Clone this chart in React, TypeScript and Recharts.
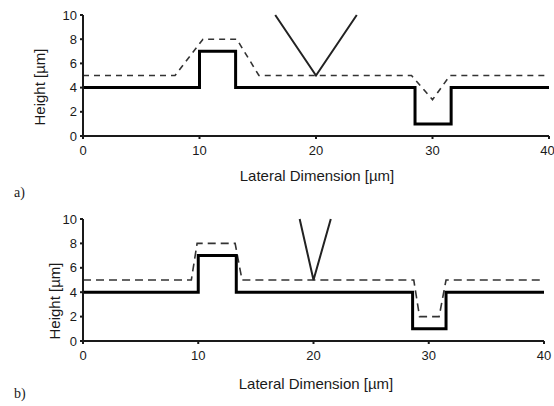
import { LineChart, Line, XAxis, YAxis, Label } from 'recharts';

// profile points, x in µm, y in µm
const topSolid = [
  { x: 0, y: 4 }, { x: 10, y: 4 }, { x: 10, y: 7 }, { x: 13.1, y: 7 }, { x: 13.1, y: 4 },
  { x: 28.5, y: 4 }, { x: 28.5, y: 1 }, { x: 31.6, y: 1 }, { x: 31.6, y: 4 }, { x: 40, y: 4 },
];
const topDashed = [
  { x: 0, y: 5 }, { x: 7.9, y: 5 }, { x: 10.3, y: 8 }, { x: 13.2, y: 8 }, { x: 15.1, y: 5 },
  { x: 28.2, y: 5 }, { x: 30, y: 3 }, { x: 31.5, y: 5 }, { x: 40, y: 5 },
];
const topTip = [{ x: 16.5, y: 10 }, { x: 20, y: 5 }, { x: 23.5, y: 10 }];

const bottomSolid = [
  { x: 0, y: 4 }, { x: 10, y: 4 }, { x: 10, y: 7 }, { x: 13.3, y: 7 }, { x: 13.3, y: 4 },
  { x: 28.6, y: 4 }, { x: 28.6, y: 1 }, { x: 31.5, y: 1 }, { x: 31.5, y: 4 }, { x: 40, y: 4 },
];
const bottomDashed = [
  { x: 0, y: 5 }, { x: 9.4, y: 5 }, { x: 9.9, y: 8 }, { x: 13.2, y: 8 }, { x: 13.8, y: 5 },
  { x: 28.7, y: 5 }, { x: 29.2, y: 2 }, { x: 30.9, y: 2 }, { x: 31.5, y: 5 }, { x: 40, y: 5 },
];
const bottomTip = [{ x: 18.8, y: 10 }, { x: 20, y: 5 }, { x: 21.5, y: 10 }];

const xTicks = [0, 10, 20, 30, 40];
const yTicks = [0, 2, 4, 6, 8, 10];

const xTitle = 'Lateral Dimension [µm]';
const yTitle = 'Height [µm]';
const panelLabels = ['a)', 'b)'];

const font = '"Liberation Sans", Arial, sans-serif';
const ink = '#1a1a1a';

const rotatedTitle = (cx: number, cy: number) => () => (
  <text
    x={cx}
    y={cy}
    transform={`rotate(-90, ${cx}, ${cy})`}
    textAnchor="middle"
    dominantBaseline="central"
    fontSize={15}
    fontFamily={font}
    fill={ink}
  >
    {yTitle}
  </text>
);

const flatTitle = (cx: number, cy: number) => () => (
  <text
    x={cx}
    y={cy}
    textAnchor="middle"
    dominantBaseline="central"
    fontSize={15}
    fontFamily={font}
    fill={ink}
  >
    {xTitle}
  </text>
);

type PanelProps = {
  height: number;
  margin: { top: number; right: number; bottom: number; left: number };
  solid: { x: number; y: number }[];
  dashed: { x: number; y: number }[];
  tip: { x: number; y: number }[];
  dash: string;
  yTitlePos: [number, number];
  xTitlePos: [number, number];
};

const Panel = ({ height, margin, solid, dashed, tip, dash, yTitlePos, xTitlePos }: PanelProps) => (
  <LineChart width={554} height={height} margin={margin}>
    <XAxis
      type="number"
      dataKey="x"
      domain={[0, 40]}
      ticks={xTicks}
      height={48}
      axisLine={{ stroke: ink, strokeWidth: 2 }}
      tickLine={{ stroke: ink, strokeWidth: 2 }}
      tickSize={3}
      tickMargin={7}
      tick={{ fill: ink, fontSize: 13, fontFamily: font }}
    >
      <Label content={flatTitle(xTitlePos[0], xTitlePos[1])} />
    </XAxis>
    <YAxis
      type="number"
      domain={[0, 10]}
      ticks={yTicks}
      width={50}
      axisLine={{ stroke: ink, strokeWidth: 2 }}
      tickLine={{ stroke: ink, strokeWidth: 2 }}
      tickSize={3}
      tickMargin={3}
      tick={{ fill: ink, fontSize: 13, fontFamily: font }}
    >
      <Label content={rotatedTitle(yTitlePos[0], yTitlePos[1])} />
    </YAxis>
    <Line data={dashed} dataKey="y" type="linear" stroke="#333" strokeWidth={1.6} strokeDasharray={dash} dot={false} isAnimationActive={false} />
    <Line data={solid} dataKey="y" type="linear" stroke="#000" strokeWidth={3} dot={false} isAnimationActive={false} />
    <Line data={tip} dataKey="y" type="linear" stroke="#222" strokeWidth={2} dot={false} isAnimationActive={false} />
  </LineChart>
);

const App = () => (
  <div style={{ position: 'absolute', left: 0, top: 0, width: 554, height: 406, background: '#fff' }}>
    <div style={{ position: 'absolute', left: 0, top: 0 }}>
      <Panel
        height={200}
        margin={{ top: 15, right: 5, bottom: 16, left: 33 }}
        solid={topSolid}
        dashed={topDashed}
        tip={topTip}
        dash="6 5"
        yTitlePos={[39, 87]}
        xTitlePos={[317, 175]}
      />
    </div>
    <div style={{ position: 'absolute', left: 0, top: 200 }}>
      <Panel
        height={206}
        margin={{ top: 19, right: 10, bottom: 17, left: 33 }}
        solid={bottomSolid}
        dashed={bottomDashed}
        tip={bottomTip}
        dash="8 5"
        yTitlePos={[54, 101]}
        xTitlePos={[316, 183]}
      />
    </div>
    {panelLabels.map((t, i) => (
      <div
        key={t}
        style={{
          position: 'absolute',
          left: 14,
          top: i === 0 ? 185 : 386,
          fontFamily: '"Liberation Serif", "Times New Roman", serif',
          fontSize: 14,
          lineHeight: '16px',
          color: ink,
        }}
      >
        {t}
      </div>
    ))}
  </div>
);

export default App;
